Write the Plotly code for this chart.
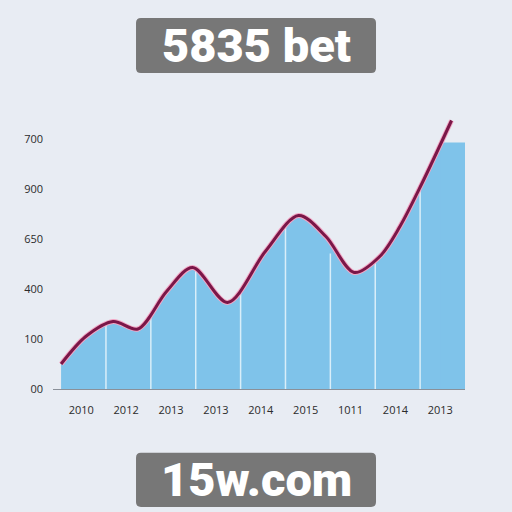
import plotly.graph_objects as go

# x positions are segment units (0..9), y in axis units (100 per tick)
line_x = [0.0, 0.55, 1.16, 1.71, 2.35, 2.93, 3.71, 4.55, 5.29, 5.9, 6.53, 7.1, 7.55, 8.04, 8.70]
line_y = [50, 105, 135, 120, 195, 243, 173, 275, 347, 305, 233, 265, 325, 411, 537]

area_x = [0.0, 0.55, 1.16, 1.71, 2.35, 2.93, 3.71, 4.55, 5.29, 5.9, 6.53, 7.1, 7.55, 8.04, 8.3, 8.5]
area_y = [50, 105, 135, 120, 195, 243, 173, 275, 347, 305, 233, 265, 325, 411, 455, 493]
cap_x = [8.46, 9.0]
cap_y = [493, 493]

divider_x = [1, 2, 3, 4, 5, 6, 7, 8]
divider_h = [133, 143, 241, 196, 333, 271, 262, 408]

x_labels = ['2010', '2012', '2013', '2013', '2014', '2015', '1011', '2014', '2013']
y_tickvals = [0, 100, 200, 300, 400, 500]
y_ticktext = ['00', '100', '400', '650', '900', '700']

BG = '#e8ecf3'
AREA = '#7fc3ea'

fig = go.Figure()
fig.add_trace(go.Scatter(x=area_x, y=area_y, mode='lines', line=dict(color=AREA, width=0, shape='spline', smoothing=0.6),
                         fill='tozeroy', fillcolor=AREA, hoverinfo='skip'))
fig.add_trace(go.Scatter(x=cap_x, y=cap_y, mode='lines', line=dict(color=AREA, width=0),
                         fill='tozeroy', fillcolor=AREA, hoverinfo='skip'))

dx, dy = [], []
for xv, h in zip(divider_x, divider_h):
    dx += [xv, xv, None]
    dy += [0, h, None]
fig.add_trace(go.Scatter(x=dx, y=dy, mode='lines', line=dict(color='#d9eef9', width=1.5), hoverinfo='skip'))

fig.add_trace(go.Scatter(x=line_x, y=line_y, mode='lines', line=dict(color='#f2a6c4', width=5, shape='spline', smoothing=0.9),
                         hoverinfo='skip'))
fig.add_trace(go.Scatter(x=line_x, y=line_y, mode='lines', line=dict(color='#7a1748', width=3, shape='spline', smoothing=0.9),
                         hoverinfo='skip'))

fig.update_layout(
    width=512, height=512, showlegend=False,
    paper_bgcolor=BG, plot_bgcolor=BG,
    margin=dict(l=53, r=47, t=100, b=123),
    font=dict(family='Open Sans', color='#333', size=11),
)
fig.update_xaxes(range=[-0.18, 9], tickvals=[i + 0.45 for i in range(9)], ticktext=x_labels,
                 showgrid=False, zeroline=False, showline=True, linecolor='#8a9099', linewidth=1,
                 ticks='', ticklabelstandoff=11, tickfont=dict(size=11, color='#2b2b2b'))
fig.update_yaxes(range=[0, 578], tickvals=y_tickvals, ticktext=y_ticktext,
                 showgrid=False, zeroline=False, showline=False,
                 ticks='', ticklabelstandoff=9, tickfont=dict(size=11, color='#2b2b2b'))


def rounded_box(x0, x1, y0, y1, rx=0.012, ry=0.017):
    return (f"M {x0 + rx},{y0} L {x1 - rx},{y0} Q {x1},{y0} {x1},{y0 + ry} "
            f"L {x1},{y1 - ry} Q {x1},{y1} {x1 - rx},{y1} L {x0 + rx},{y1} "
            f"Q {x0},{y1} {x0},{y1 - ry} L {x0},{y0 + ry} Q {x0},{y0} {x0 + rx},{y0} Z")


# title / footer boxes, paper coords of the plot area (x: 53..465 px, y: 389..100 px)
for txt, y0, y1 in [('5835 bet', 1.093, 1.284), ('15w.com', -0.408, -0.221)]:
    fig.add_shape(type='path', xref='paper', yref='paper', path=rounded_box(0.2015, 0.784, y0, y1),
                  fillcolor='#777777', line=dict(width=0), layer='above')
    fig.add_annotation(text=txt, xref='paper', yref='paper', x=0.493, y=(y0 + y1) / 2,
                       xanchor='center', yanchor='middle', showarrow=False,
                       font=dict(family='Roboto', size=47, color='white', weight=900))

fig.write_html("out.html", config={'displayModeBar': False},
               post_script="document.body.style.margin='0';")
